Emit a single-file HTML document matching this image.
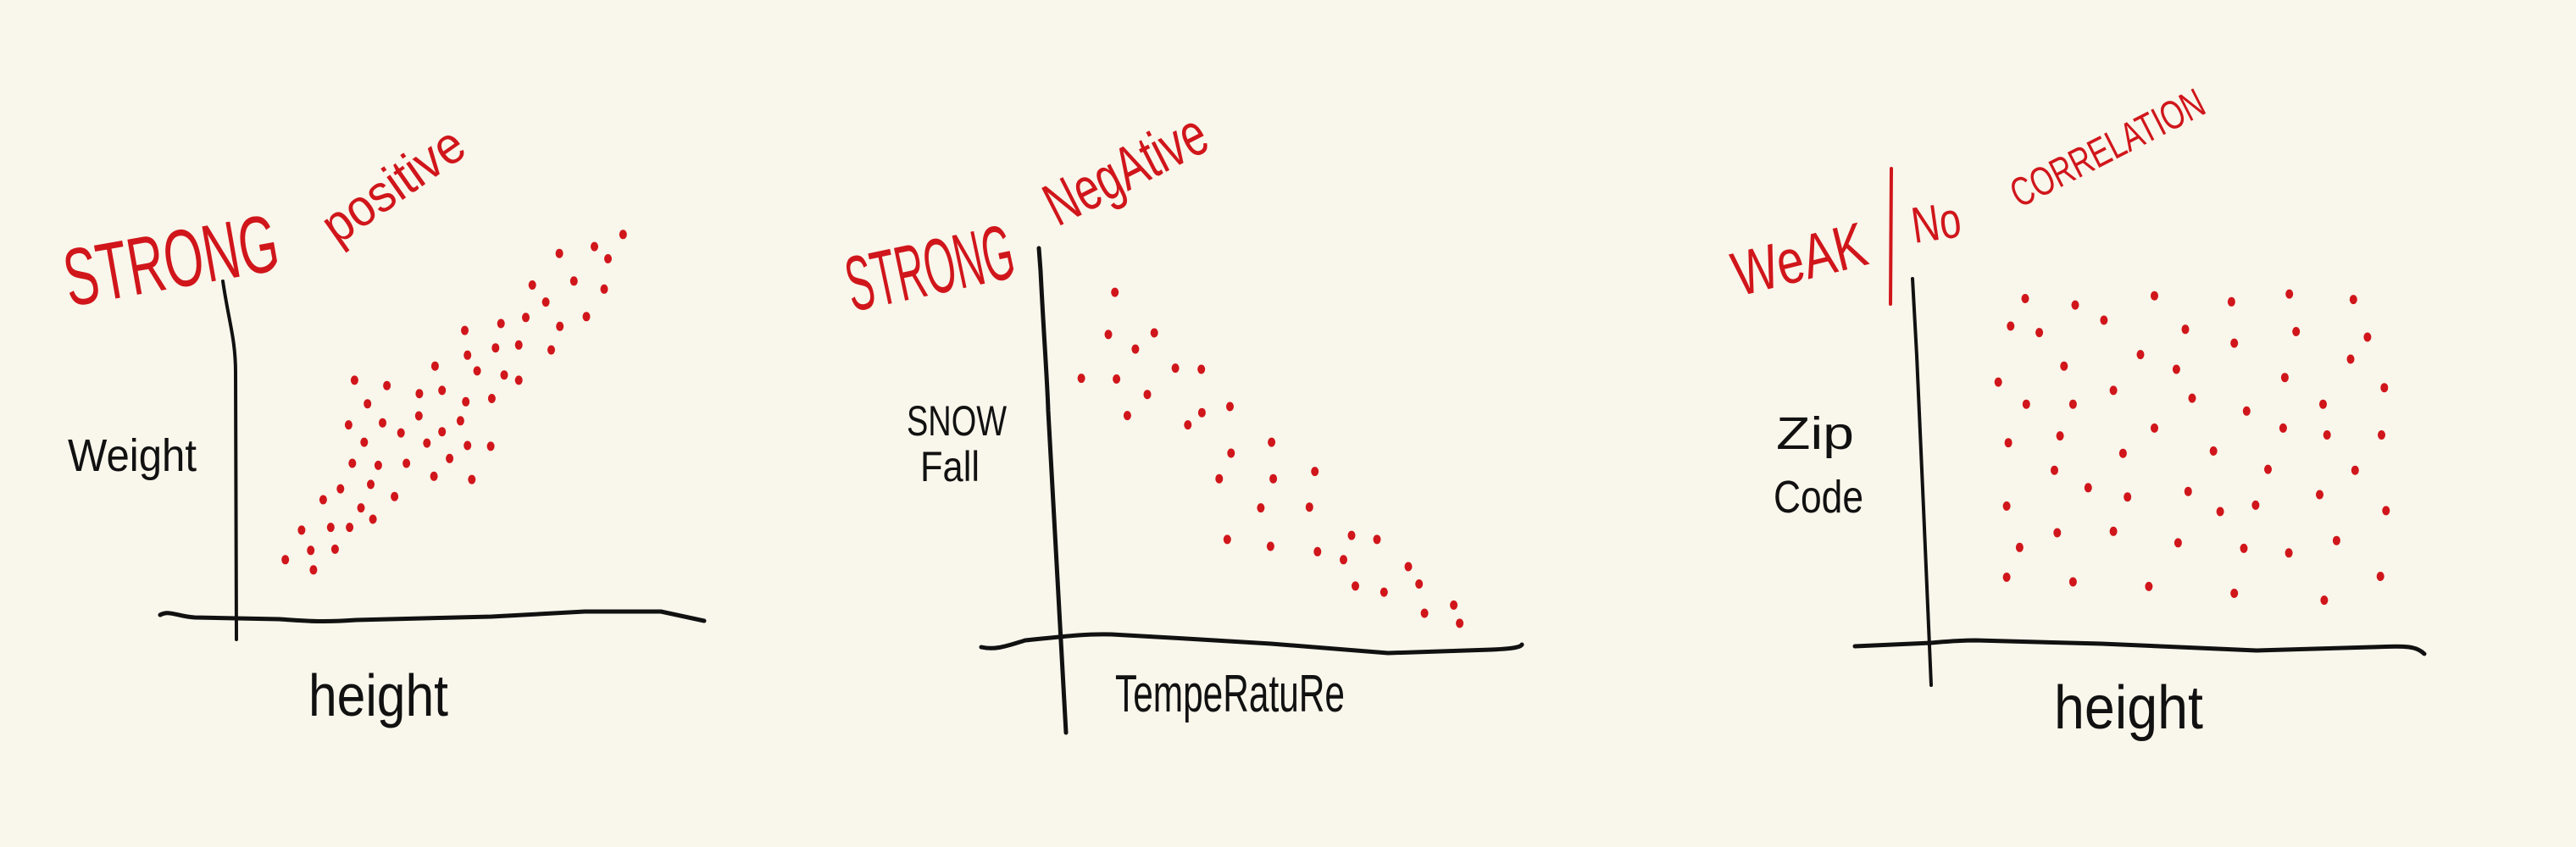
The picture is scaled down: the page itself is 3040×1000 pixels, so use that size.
<!DOCTYPE html>
<html><head><meta charset="utf-8"><style>
html,body{margin:0;padding:0;background:#f9f6eb;}
svg{display:block;}
text{font-family:"Liberation Sans",sans-serif;}
.red{fill:#d0161b;}
.blk{fill:#111;}
.ax{fill:none;stroke:#111;stroke-linecap:round;stroke-linejoin:round;}
</style></head><body>
<svg id="chart" width="3040" height="1000" viewBox="0 0 3040 1000" xmlns="http://www.w3.org/2000/svg">
<rect width="3040" height="1000" fill="#f9f6eb"/>

<!-- Panel 1 -->
<g>
<path class="ax" stroke-width="4" d="M263,332 C270,380 278,400 278,440 L279,755"/>
<path class="ax" stroke-width="5" d="M189,726 C200,720 210,728 230,729 L330,731 C360,733 380,735 420,732 L580,728 L690,722 L780,722 L831,733"/>
<text class="red" x="82" y="362" font-size="96" textLength="255" lengthAdjust="spacingAndGlyphs" transform="rotate(-10 82 362)">STRONG</text>
<text class="red" x="398" y="290" font-size="62" textLength="190" lengthAdjust="spacingAndGlyphs" transform="rotate(-35 398 290)">positive</text>
<text class="blk" x="80" y="556" font-size="54" textLength="152" lengthAdjust="spacingAndGlyphs">Weight</text>
<text class="blk" x="364" y="845" font-size="70" textLength="165" lengthAdjust="spacingAndGlyphs">height</text>
<g id="p1dots"></g>
</g>

<!-- Panel 2 -->
<g>
<path class="ax" stroke-width="5" d="M1226,293 L1228,320 C1232,400 1236,450 1237,485 L1258,865"/>
<path class="ax" stroke-width="5" d="M1158,764 C1175,768 1190,762 1210,756 C1250,752 1280,748 1312,749 L1400,754 L1500,760 L1638,771 L1760,767 C1785,766 1795,764 1796,761"/>
<text class="red" x="1006" y="368" font-size="92" textLength="200" lengthAdjust="spacingAndGlyphs" transform="rotate(-12 1006 368)">STRONG</text>
<text class="red" x="1248" y="268" font-size="72" textLength="205" lengthAdjust="spacingAndGlyphs" transform="rotate(-27 1248 268)">NegAtive</text>
<text class="blk" x="1070" y="514" font-size="50" textLength="118" lengthAdjust="spacingAndGlyphs">SNOW</text>
<text class="blk" x="1086" y="568" font-size="50" textLength="70" lengthAdjust="spacingAndGlyphs">Fall</text>
<text class="blk" x="1316" y="840" font-size="62" textLength="271" lengthAdjust="spacingAndGlyphs">TempeRatuRe</text>
<g id="p2dots"></g>
</g>

<!-- Panel 3 -->
<g>
<path class="ax" stroke-width="4" d="M2257,329 L2262,420 L2270,600 L2279,809"/>
<path class="ax" stroke-width="5" d="M2189,763 L2279,759 C2300,757 2315,756 2332,756 L2480,760 L2663,768 L2800,764 C2840,762 2852,763 2861,772"/>
<text class="red" x="2052" y="350" font-size="74" textLength="160" lengthAdjust="spacingAndGlyphs" transform="rotate(-14 2052 350)">WeAK</text>
<path fill="none" stroke="#d0161b" stroke-width="4" stroke-linecap="round" d="M2232,199 L2231,359"/>
<text class="red" x="2259" y="287" font-size="60" textLength="58" lengthAdjust="spacingAndGlyphs" transform="rotate(-8 2259 287)">No</text>
<text class="red" x="2383" y="246" font-size="48" textLength="250" lengthAdjust="spacingAndGlyphs" transform="rotate(-27 2383 246)">CORRELATION</text>
<text class="blk" x="2096" y="530" font-size="54" textLength="92" lengthAdjust="spacingAndGlyphs">Zip</text>
<text class="blk" x="2093" y="605" font-size="54" textLength="106" lengthAdjust="spacingAndGlyphs">Code</text>
<text class="blk" x="2424" y="860" font-size="72" textLength="176" lengthAdjust="spacingAndGlyphs">height</text>
<g id="p3dots"></g>
</g>
</svg>
<script>
// Panel 1: height vs weight
const p1Height = [115.3,103.5,110,112.5,98.5,106.2,111.8,101,108.5,92.7,97.3,86,103.6,91.7,96,102,86.5,80.5,88.3,93.3,96,65.6,71.6,77.6,81.8,86.2,91,68,64.5,70.8,77.5,85.2,74.2,81.8,67.4,79,86.5,90.8,65.2,70,75.2,83.2,80.3,87.3,63,68.6,59.8,73,66.8,69,55.8,61.2,64.7,52.8,57.5,62,58];
const p1Weight = [98.5,93.8,95.5,92.5,86,87,85,81.8,78.2,76.5,78,74.8,75.8,70.5,71.2,70,68.7,66,64.8,63.8,62.5,62.5,61.2,59.2,60,57.2,58,56.7,51.5,52,53.7,52.5,49.5,49.8,47.2,47,46.4,46.2,42,41.5,42,43.2,38.8,38,35.7,36.8,33,33.8,31,28.2,25.5,26.2,26.2,18.2,20.5,20.8,15.7];
// Panel 2: temperature vs snowfall
const p2Temperature = [49.5,48.3,56.8,53.3,60.7,65.5,43.3,49.8,55.5,51.8,65.6,70.8,63,78.5,71,68.8,78.8,86.5,76.5,85.5,70.3,78.3,87,93.3,98,91.8,103.8,94,99.3,105.8,106.8,112.2,113.3];
const p2Snowfall = [84.2,73.8,74.2,70.2,65.5,65.2,63,62.8,59,53.8,54.5,56,51.5,47.2,44.5,38.2,38.2,40,31,31.2,23.2,21.5,20.2,24.2,23.2,18.2,16.5,11.7,10.2,12.2,5,7,2.5];
// Panel 3: height vs zip code
const p3Height = [58.8,67.7,81.8,95.5,105.8,117.2,56.2,61.3,72.8,87.3,96,107,119.7,65.7,79.3,85.7,116.7,54,74.5,105,122.7,59,67.3,88.5,98.2,111.8,55.8,65,81.8,104.7,112.5,122.2,76.2,92.3,64,102,117.5,70,77,87.8,55.5,93.5,99.8,111.2,123,64.5,74.5,57.8,86,97.7,105.7,114.2,55.5,67.3,80.8,96,112,122];
const p3ZipCode = [74.2,72.8,74.8,73.5,75.2,74,68.2,66.8,69.5,67.5,64.5,67,65.8,59.5,62,58.8,61,56,54.2,57,54.8,51.2,51.2,52.5,49.7,51.2,42.8,44.3,46,46,44.5,44.5,40.5,41,36.8,37,36.8,33,31,32.2,29,27.8,29.2,31.5,28,23.2,23.5,20,21,19.8,18.8,21.5,13.5,12.5,11.5,10,8.5,13.7];

const NS = 'http://www.w3.org/2000/svg';
function x1(v){ return v*10/1.568; }
function y1(v){ return 150 + (1250 - v*10)/2.0907; }
function x2(v){ return 1000 + v*10/1.568; }
function y2(v){ return 150 + (1250 - v*10)/2.0907; }
function x3(v){ return 2000 + v*10/1.5077; }
function y3(v){ return 50 + (1300 - v*10)/1.8447; }

function drawDots(gid, xs, ys, fx, fy, prefix){
  const g = document.getElementById(gid);
  for (let i = 0; i < xs.length; i++){
    const e = document.createElementNS(NS, 'ellipse');
    e.setAttribute('cx', fx(xs[i]).toFixed(1));
    e.setAttribute('cy', fy(ys[i]).toFixed(1));
    e.setAttribute('rx', '4.5');
    e.setAttribute('ry', '5.5');
    e.setAttribute('fill', '#d0161b');
    
    
    g.appendChild(e);
  }
}
drawDots('p1dots', p1Height, p1Weight, x1, y1, 'p1');
drawDots('p2dots', p2Temperature, p2Snowfall, x2, y2, 'p2');
drawDots('p3dots', p3Height, p3ZipCode, x3, y3, 'p3');
</script>
</body></html>
